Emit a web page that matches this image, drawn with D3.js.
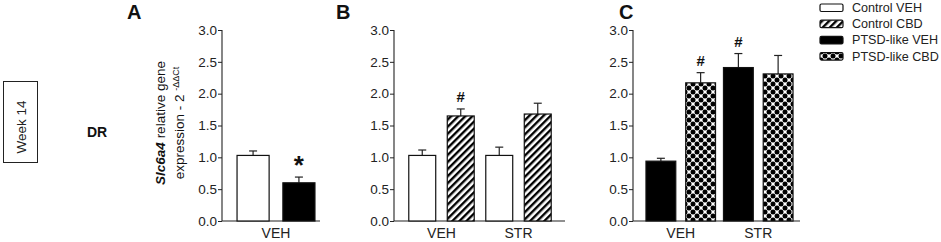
<!DOCTYPE html>
<html><head><meta charset="utf-8">
<script src="https://cdn.jsdelivr.net/npm/d3@7"></script>
<style>body{margin:0;background:#fff}svg{display:block;font-family:"Liberation Sans",Arial,sans-serif}</style>
</head><body><svg id="c" width="941" height="242"></svg>
<script>
const seriesNames = ["Control VEH","Control CBD","PTSD-like VEH","PTSD-like CBD"];
const yTicks = [0,0.5,1.0,1.5,2.0,2.5,3.0];
// Panel A
const groupsA = ["VEH"];
const seriesA = ["Control VEH","PTSD-like VEH"];
const meanA = [[1.03,0.60]];
const errA  = [[1.10,0.69]];
const markA = [["","*"]];
// Panel B
const groupsB = ["VEH","STR"];
const seriesB = ["Control VEH","Control CBD"];
const meanB = [[1.03,1.65],[1.03,1.68]];
const errB  = [[1.115,1.76],[1.16,1.85]];
const markB = [["","#"],["",""]];
// Panel C
const groupsC = ["VEH","STR"];
const seriesC = ["PTSD-like VEH","PTSD-like CBD"];
const meanC = [[0.94,2.17],[2.41,2.31]];
const errC  = [[0.985,2.33],[2.63,2.60]];
const markC = [["","#"],["#",""]];

const svg = d3.select("#c");
const defs = svg.append("defs");
const hp = defs.append("pattern").attr("id","hatch").attr("patternUnits","userSpaceOnUse")
  .attr("width",5).attr("height",5).attr("patternTransform","rotate(45)");
hp.append("rect").attr("width",5).attr("height",5).attr("fill","#fff");
hp.append("rect").attr("x",0).attr("y",0).attr("width",2.4).attr("height",5).attr("fill","#000");
const dp = defs.append("pattern").attr("id","dots").attr("patternUnits","userSpaceOnUse")
  .attr("width",8).attr("height",8).attr("x",1).attr("y",0);
dp.append("rect").attr("width",8).attr("height",8).attr("fill","#fff");
[[0,0],[8,0],[0,8],[8,8],[4,4]].forEach(p=>dp.append("circle").attr("cx",p[0]).attr("cy",p[1]).attr("r",2.5).attr("fill","#000"));
const fills = {"Control VEH":"#fff","Control CBD":"url(#hatch)","PTSD-like VEH":"#000","PTSD-like CBD":"url(#dots)"};

const y = d3.scaleLinear().domain([0,3]).range([221,30]);

function panel(o){
  const g = svg.append("g");
  const yAx = d3.axisLeft(y).tickValues(yTicks).tickFormat(d3.format(".1f")).tickSizeInner(4).tickSizeOuter(0);
  const ya = g.append("g").attr("transform",`translate(${o.axisX},0)`).call(yAx);
  ya.select(".domain").attr("stroke","#222").attr("stroke-width",1.1).attr("d",`M0,${y(3)}V${y(0)}`);
  ya.selectAll(".tick line").attr("stroke","#222");
  ya.selectAll(".tick text").attr("font-size",13.5).attr("fill","#222").attr("x",-5).attr("font-family","Liberation Sans, Arial, sans-serif");
  g.append("line").attr("x1",o.axisX).attr("x2",o.axisEnd).attr("y1",y(0)).attr("y2",y(0)).attr("stroke","#222").attr("stroke-width",1.1);
  const x0 = d3.scaleBand().domain(o.groups).range(o.range).paddingInner(0).paddingOuter(0);
  const x1 = d3.scaleBand().domain(o.series).range([0,x0.bandwidth()]).paddingInner(o.pi).paddingOuter(o.po);
  o.groups.forEach((gr,i)=>{
    o.series.forEach((s,j)=>{
      const bx = x0(gr)+x1(s), bw = x1.bandwidth(), cx = bx+bw/2;
      const m = o.mean[i][j], e = o.err[i][j];
      g.append("line").attr("x1",cx).attr("x2",cx).attr("y1",y(m)).attr("y2",y(e)).attr("stroke","#222").attr("stroke-width",1.2);
      g.append("line").attr("x1",cx-4).attr("x2",cx+4).attr("y1",y(e)).attr("y2",y(e)).attr("stroke","#222").attr("stroke-width",1.2);
      g.append("rect").attr("x",bx).attr("y",y(m)).attr("width",bw).attr("height",y(0)-y(m))
        .attr("fill",fills[s]).attr("stroke","#111").attr("stroke-width",1.2);
      const mk = o.mark[i][j];
      if(mk==="*") g.append("text").attr("x",cx).attr("y",y(e)-3).attr("text-anchor","middle").attr("font-size",26).attr("font-weight","bold").attr("fill","#111").text(mk);
      else if(mk) g.append("text").attr("x",cx).attr("y",y(e)-7).attr("text-anchor","middle").attr("font-size",15).attr("font-weight","bold").attr("fill","#111").text(mk);
    });
    g.append("text").attr("x",x0(gr)+x0.bandwidth()/2).attr("y",238).attr("text-anchor","middle").attr("font-size",14).attr("fill","#222").text(gr);
  });
  g.append("text").attr("x",o.letterX).attr("y",19).attr("font-size",20).attr("font-weight","bold").attr("fill","#111").text(o.letter);
}

panel({axisX:222,axisEnd:320,groups:groupsA,series:seriesA,mean:meanA,err:errA,mark:markA,range:[232,320],pi:0.3,po:0.11,letter:"A",letterX:127});
panel({axisX:394,axisEnd:565,groups:groupsB,series:seriesB,mean:meanB,err:errB,mark:markB,range:[403,557],pi:0.3,po:0.15,letter:"B",letterX:336});
panel({axisX:633,axisEnd:800,groups:groupsC,series:seriesC,mean:meanC,err:errC,mark:markC,range:[642,797],pi:0.25,po:0.1,letter:"C",letterX:619});

// y title
const yt = svg.append("text").attr("transform","translate(165,123) rotate(-90)").attr("text-anchor","middle").attr("font-size",13.5).attr("fill","#111");
yt.append("tspan").attr("font-weight","bold").attr("font-style","italic").text("Slc6a4");
yt.append("tspan").text(" relative gene");
const yt2 = svg.append("text").attr("transform","translate(184,123) rotate(-90)").attr("text-anchor","middle").attr("font-size",13.5).attr("fill","#111");
yt2.append("tspan").text("expression - 2 ");
yt2.append("tspan").attr("font-size",9).attr("dy",-5).text("-ΔΔCt");

// Week box & DR
svg.append("rect").attr("x",3.5).attr("y",81.5).attr("width",34).attr("height",81).attr("fill","#fff").attr("stroke","#222").attr("stroke-width",1);
svg.append("text").attr("transform","translate(26,127) rotate(-90)").attr("text-anchor","middle").attr("font-size",13.5).attr("fill","#222").text("Week 14");
svg.append("text").attr("x",87).attr("y",137).attr("font-size",14).attr("font-weight","bold").attr("fill","#111").text("DR");

// legend
const lg = svg.append("g");
seriesNames.forEach((s,i)=>{
  const yy = 7.5 + i*16.2;
  lg.append("rect").attr("x",820).attr("y",yy-3.5).attr("width",23).attr("height",7.5).attr("rx",1.5)
    .attr("fill",fills[s]).attr("stroke","#111").attr("stroke-width",1.2);
  lg.append("text").attr("x",852).attr("y",yy+4.5).attr("font-size",12.6).attr("fill","#222").text(s);
});
</script></body></html>
